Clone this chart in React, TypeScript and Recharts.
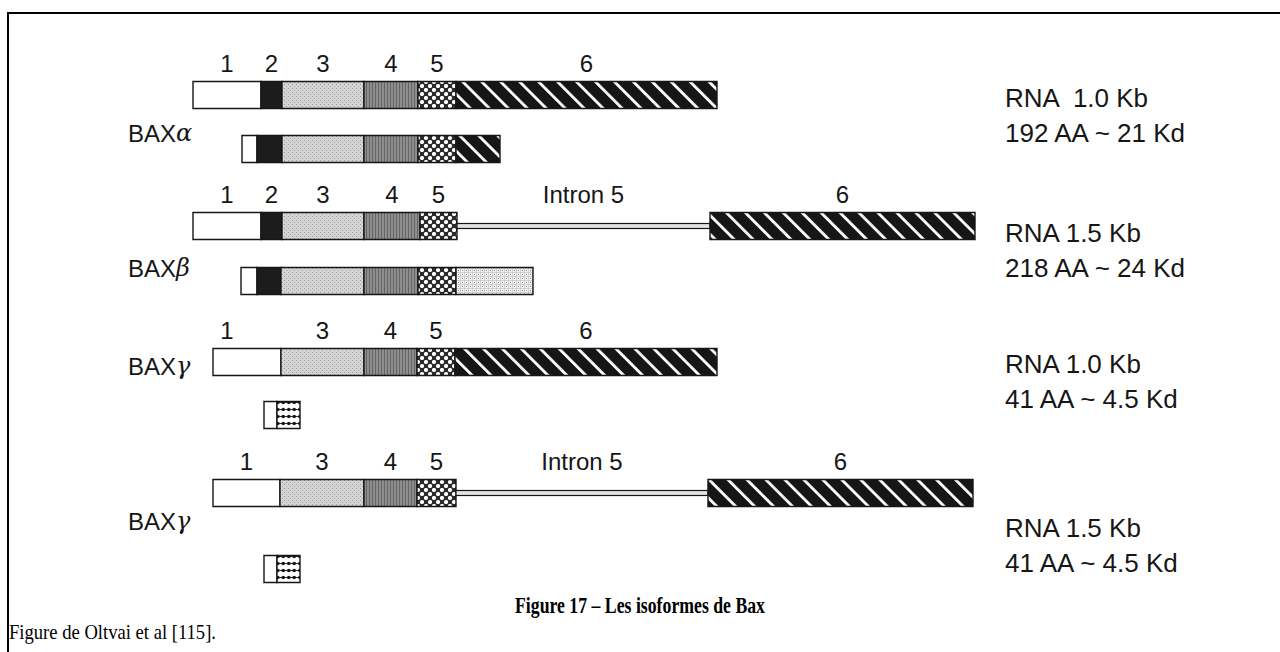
import React from 'react'
import { BarChart, Bar, XAxis, YAxis, LabelList } from 'recharts'

// one track per drawn bar: gene structure, then the protein it codes for
const rowNames = ['BAXα gene', 'BAXα protein', 'BAXβ gene', 'BAXβ protein', 'BAXγ gene', 'BAXγ protein', 'BAXγ gene (intron 5)', 'BAXγ protein (intron 5)']
const track = [95, 149, 226, 281, 362, 415, 493, 569]
const isGene = [true, false, true, false, true, false, true, false]

// segment lengths along the figure axis
const lead = [193, 242, 193, 241, 213, 264, 213, 264]
const exon1 = [68, 15, 68, 16, 68, 13, 67, 13]
const gammaTail = [0, 0, 0, 0, 0, 23, 0, 23]
const exon2 = [21, 25, 21, 24, 0, 0, 0, 0]
const exon3 = [82, 82, 82, 83, 83, 0, 84, 0]
const exon4 = [54, 54, 56, 54, 53, 0, 53, 0]
const exon5 = [38, 38, 37, 38, 38, 0, 39, 0]
const betaTail = [0, 0, 0, 77, 0, 0, 0, 0]
const intron5 = [0, 0, 253, 0, 0, 0, 252, 0]
const exon6 = [261, 44, 265, 0, 262, 0, 265, 0]

const isoforms = ['α', 'β', 'γ', 'γ']
const rnaSize = ['RNA  1.0 Kb', 'RNA 1.5 Kb', 'RNA 1.0 Kb', 'RNA 1.5 Kb']
const proteinSize = ['192 AA ~ 21 Kd', '218 AA ~ 24 Kd', '41 AA ~ 4.5 Kd', '41 AA ~ 4.5 Kd']

const caption = 'Figure 17 – Les isoformes de Bax'
const source = 'Figure de Oltvai et al [115].'

const series = [
  { key: 'exon1', values: exon1, label: '1', fill: '#ffffff' },
  { key: 'gammaTail', values: gammaTail, label: '', fill: 'url(#pGamma)' },
  { key: 'exon2', values: exon2, label: '2', fill: '#1c1c1c' },
  { key: 'exon3', values: exon3, label: '3', fill: 'url(#p3)' },
  { key: 'exon4', values: exon4, label: '4', fill: 'url(#p4)' },
  { key: 'exon5', values: exon5, label: '5', fill: 'url(#p5)' },
  { key: 'betaTail', values: betaTail, label: '', fill: 'url(#pBeta)' },
  { key: 'intron5', values: intron5, label: 'Intron 5', fill: '#dddddd' },
  { key: 'exon6', values: exon6, label: '6', fill: 'url(#p6)' },
]

const data = rowNames.map((name, i) => {
  const row: Record<string, number | string> = { name, track: track[i], lead: lead[i] }
  series.forEach(s => {
    row[s.key] = s.values[i]
    row[s.key + 'Label'] = isGene[i] && s.values[i] > 0 ? s.label : ''
  })
  return row
})

const font = '"Liberation Sans", Arial, sans-serif'
const serif = '"Liberation Serif", "Times New Roman", serif'
const ink = '#161616'

const exonLabel = (props: any) => {
  const { x, y, width, value, index } = props
  if (!value) return null
  // in the BAXγ drawing the "1" sits left of the exon centre
  const cx = index === 4 && value === '1' ? x + 14 : x + width / 2
  return (
    <text x={cx} y={y - 10} textAnchor="middle" fontSize={24} fontFamily={font} fill={ink}>
      {value}
    </text>
  )
}

const intronShape = (props: any) => {
  const { x, y, width, height } = props
  if (!width) return null
  const cy = y + height / 2
  return <rect x={x} y={cy - 2.5} width={width} height={5} fill="#e2e2e2" stroke={ink} strokeWidth={1.2} />
}

const nameY = [133, 268, 366, 521]
const infoY = [98, 233, 364, 528]

export default function App() {
  return (
    <div style={{ position: 'absolute', left: 0, top: 0, width: 1280, height: 652, background: '#fff', overflow: 'hidden' }}>
      <div style={{ position: 'absolute', left: 7, top: 12, width: 1273, height: 640, borderTop: '2px solid #000', borderLeft: '2px solid #000', boxSizing: 'border-box' }} />
      <div style={{ position: 'absolute', left: 0, top: 0 }}>
        <BarChart width={1280} height={652} data={data} layout="vertical" margin={{ top: 0, right: 0, bottom: 0, left: 0 }}>
          <defs>
            <pattern id="p3" width="4" height="4" patternUnits="userSpaceOnUse">
              <rect width="4" height="4" fill="#d4d4d4" />
              <rect x="0" y="0" width="1" height="1" fill="#9c9c9c" />
              <rect x="2" y="2" width="1" height="1" fill="#a8a8a8" />
            </pattern>
            <pattern id="p4" width="3" height="4" patternUnits="userSpaceOnUse">
              <rect width="3" height="4" fill="#8e8e8e" />
              <rect width="1" height="4" fill="#666" />
            </pattern>
            <pattern id="p5" width="8" height="8" patternUnits="userSpaceOnUse">
              <rect width="8" height="8" fill="#2a2a2a" />
              <circle cx="2" cy="2" r="2.1" fill="#fff" />
              <circle cx="6" cy="6" r="2.1" fill="#fff" />
            </pattern>
            <pattern id="p6" width="13.4" height="13.4" patternUnits="userSpaceOnUse" patternTransform="rotate(-45)">
              <rect width="13.4" height="13.4" fill="#161616" />
              <rect x="0" width="2.8" height="13.4" fill="#fff" />
            </pattern>
            <pattern id="pBeta" width="4" height="4" patternUnits="userSpaceOnUse">
              <rect width="4" height="4" fill="#f4f4f4" />
              <rect x="0" y="0" width="4" height="0.6" fill="#bbb" />
              <rect x="0" y="0" width="0.6" height="4" fill="#bbb" />
              <rect x="2" y="2" width="1" height="1" fill="#888" />
            </pattern>
            <pattern id="pGamma" width="5.5" height="7" patternUnits="userSpaceOnUse">
              <rect width="5.5" height="7" fill="#fff" />
              <rect x="0" y="3" width="5.5" height="1" fill="#333" />
              <circle cx="2.75" cy="3.5" r="1.8" fill="#111" />
            </pattern>
          </defs>
          <XAxis type="number" domain={[0, 1280]} allowDataOverflow hide />
          <YAxis type="number" dataKey="track" domain={[0, 652]} allowDataOverflow hide />
          <Bar dataKey="lead" stackId="g" barSize={27} fill="transparent" isAnimationActive={false} />
          {series.map(s =>
            s.key === 'intron5' ? (
              <Bar key={s.key} dataKey={s.key} stackId="g" barSize={27} shape={intronShape} isAnimationActive={false}>
                <LabelList dataKey={s.key + 'Label'} content={exonLabel} />
              </Bar>
            ) : (
              <Bar key={s.key} dataKey={s.key} stackId="g" barSize={27} fill={s.fill} stroke={ink} strokeWidth={1.4} isAnimationActive={false}>
                <LabelList dataKey={s.key + 'Label'} content={exonLabel} />
              </Bar>
            )
          )}
          {isoforms.map((iso, i) => (
            <text key={'n' + i} x={128} y={nameY[i]} dominantBaseline="central" fontSize={24} fontFamily={font} fill={ink}>
              BAX<tspan fontStyle="italic" fontFamily='"DejaVu Serif", serif'>{iso}</tspan>
            </text>
          ))}
          {rnaSize.map((t, i) => (
            <g key={'r' + i}>
              <text x={1005} y={infoY[i]} dominantBaseline="central" fontSize={26} fontFamily={font} fill={ink} style={{ whiteSpace: 'pre' }}>{t}</text>
              <text x={1005} y={infoY[i] + 35} dominantBaseline="central" fontSize={26} fontFamily={font} fill={ink} style={{ whiteSpace: 'pre' }}>{proteinSize[i]}</text>
            </g>
          ))}
          <text x={640} y={605} textAnchor="middle" dominantBaseline="central" fontSize={24} fontWeight="bold" fontFamily={serif} fill="#000" textLength={250} lengthAdjust="spacingAndGlyphs">{caption}</text>
          <text x={9} y={632} dominantBaseline="central" fontSize={21} fontFamily={serif} fill="#000" textLength={207} lengthAdjust="spacingAndGlyphs">{source}</text>
        </BarChart>
      </div>
    </div>
  )
}
